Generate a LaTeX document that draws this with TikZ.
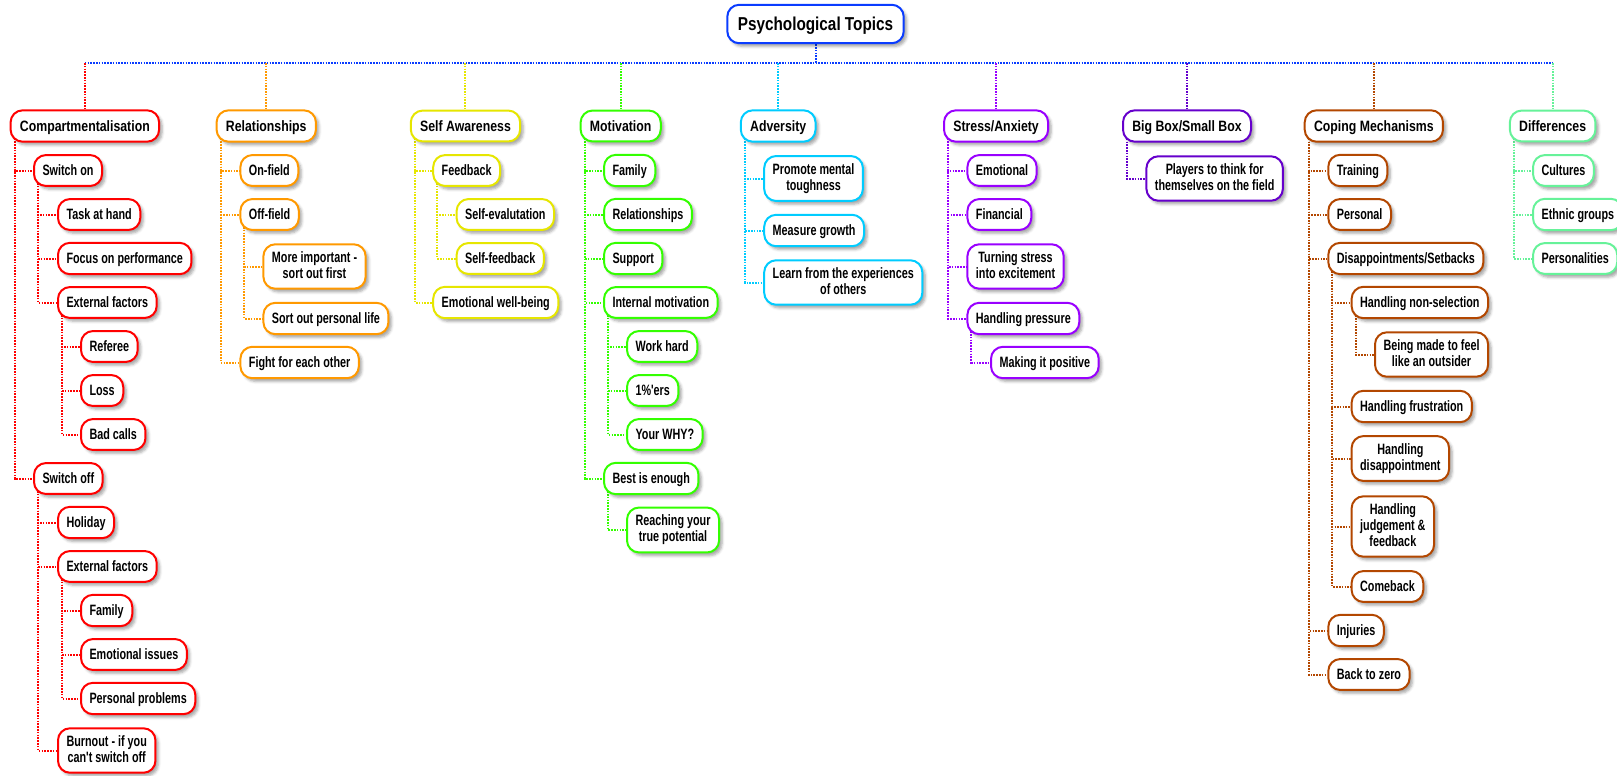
\documentclass[tikz,border=0pt]{standalone}
\usepackage{fontspec}
\setmainfont{Liberation Sans}[FakeStretch=0.82]
\newfontfamily\topfont{Liberation Sans}[FakeStretch=0.82]
\newfontfamily\subfont{Liberation Sans}[FakeStretch=0.72]
\usetikzlibrary{shadows.blur}

\definecolor{croot}{HTML}{0A3CFF}
\definecolor{cred}{HTML}{FF0000}
\definecolor{corange}{HTML}{FF9900}
\definecolor{cyellow}{HTML}{E6E600}
\definecolor{cgreen}{HTML}{33FF00}
\definecolor{ccyan}{HTML}{00CCFF}
\definecolor{cpurple}{HTML}{9900FF}
\definecolor{cviolet}{HTML}{6600CC}
\definecolor{cbrown}{HTML}{B34700}
\definecolor{cmint}{HTML}{66F299}

\pgfdeclarelayer{background}
\pgfsetlayers{background,main}

% line struts keep every text row the same height
\newcommand\nstrut{\rule[-2pt]{0pt}{12pt}}
\newcommand\rstrut{\rule[-2.6pt]{0pt}{15pt}}

\tikzset{
  box/.style={draw=#1, fill=white, line width=1.5pt, rounded corners=9pt,
    align=center, inner xsep=6.4pt, inner ysep=5.6pt, anchor=west,
    font=\subfont\fontsize{11.25}{12}\selectfont\bfseries, text=black,
    execute at begin node=\nstrut, execute at end node=\nstrut,
    blur shadow={shadow xshift=2.2pt, shadow yshift=-2.4pt,
      shadow blur radius=2pt, shadow opacity=35}},
  tbox/.style={box=#1, inner xsep=7pt,
    font=\topfont\fontsize{11.25}{12}\selectfont\bfseries},
  rootbox/.style={box=#1, anchor=center, inner xsep=7.9pt, inner ysep=6.75pt,
    font=\topfont\fontsize{14}{15}\selectfont\bfseries,
    execute at begin node=\rstrut, execute at end node=\rstrut},
  link/.style={draw=#1, line width=1.5pt, dash pattern=on 1.2pt off 0.9pt},
}

\begin{document}
\begin{tikzpicture}[x=0.75pt, y=-0.75pt]
\useasboundingbox (0,0) rectangle (1617,775);

% root and bus
\node[rootbox=croot] (root) at (815.5,24) {Psychological Topics};
\coordinate (bus) at (815.5,63);

% Compartmentalisation
\node[tbox=cred] (cmp) at (9.6,126) {Compartmentalisation};
\node[box=cred] (son) at (33,170.5) {Switch on};
\node[box=cred] (tah) at (57,214.5) {Task at hand};
\node[box=cred] (fop) at (57,258.5) {Focus on performance};
\node[box=cred] (exa) at (57,302.5) {External factors};
\node[box=cred] (ref) at (80,346.5) {Referee};
\node[box=cred] (los) at (80,390.5) {Loss};
\node[box=cred] (bad) at (80,434.5) {Bad calls};
\node[box=cred] (sof) at (33,478.5) {Switch off};
\node[box=cred] (hol) at (57,522.5) {Holiday};
\node[box=cred] (exb) at (57,566.5) {External factors};
\node[box=cred] (fma) at (80,610.5) {Family};
\node[box=cred] (emi) at (80,654.5) {Emotional issues};
\node[box=cred] (ppr) at (80,698.5) {Personal problems};
\node[box=cred] (brn) at (57,750.5) {Burnout - if you\\can't switch off};

% Relationships
\node[tbox=corange] (rel) at (215.6,126) {Relationships};
\node[box=corange] (onf) at (239.4,170.5) {On-field};
\node[box=corange] (off) at (239.4,214.5) {Off-field};
\node[box=corange] (mim) at (262.4,266.5) {More important -\\sort out first};
\node[box=corange] (sop) at (262.4,318.5) {Sort out personal life};
\node[box=corange] (ffe) at (239.4,362.5) {Fight for each other};

% Self Awareness
\node[tbox=cyellow] (saw) at (409.8,126) {Self Awareness};
\node[box=cyellow] (fdb) at (432.2,170.5) {Feedback};
\node[box=cyellow] (sev) at (455.6,214.5) {Self-evalutation};
\node[box=cyellow] (sfb) at (455.6,258.5) {Self-feedback};
\node[box=cyellow] (ewb) at (432.2,302.5) {Emotional well-being};

% Motivation
\node[tbox=cgreen] (mot) at (579.6,126) {Motivation};
\node[box=cgreen] (mfa) at (603,170.5) {Family};
\node[box=cgreen] (mre) at (603,214.5) {Relationships};
\node[box=cgreen] (sup) at (603,258.5) {Support};
\node[box=cgreen] (imo) at (603,302.5) {Internal motivation};
\node[box=cgreen] (wkh) at (626,346.5) {Work hard};
\node[box=cgreen] (one) at (626,390.5) {1\%'ers};
\node[box=cgreen] (why) at (626,434.5) {Your WHY?};
\node[box=cgreen] (bie) at (603,478.5) {Best is enough};
\node[box=cgreen] (ryp) at (626,530) {Reaching your\\true potential};

% Adversity
\node[tbox=ccyan] (adv) at (739.8,126) {Adversity};
\node[box=ccyan] (pmt) at (763.2,178.5) {Promote mental\\toughness};
\node[box=ccyan] (mgr) at (763.2,230.5) {Measure growth};
\node[box=ccyan] (lfe) at (763.2,282.5) {Learn from the experiences\\of others};

% Stress/Anxiety
\node[tbox=cpurple] (sta) at (943,126) {Stress/Anxiety};
\node[box=cpurple] (sem) at (966.4,170.5) {Emotional};
\node[box=cpurple] (fin) at (966.4,214.5) {Financial};
\node[box=cpurple] (tse) at (966.4,266.5) {Turning stress\\into excitement};
\node[box=cpurple] (hpr) at (966.4,318.5) {Handling pressure};
\node[box=cpurple] (mip) at (990,362.5) {Making it positive};

% Big Box/Small Box
\node[tbox=cviolet] (bbs) at (1122,126) {Big Box/Small Box};
\node[box=cviolet] (ptt) at (1145.4,178.5) {Players to think for\\themselves on the field};

% Coping Mechanisms
\node[tbox=cbrown] (cop) at (1303.7,126) {Coping Mechanisms};
\node[box=cbrown] (trn) at (1327.3,170.5) {Training};
\node[box=cbrown] (per) at (1327.3,214.5) {Personal};
\node[box=cbrown] (dis) at (1327.3,258.5) {Disappointments/Setbacks};
\node[box=cbrown] (hns) at (1350.6,302.5) {Handling non-selection};
\node[box=cbrown] (bmf) at (1374,354.5) {Being made to feel\\like an outsider};
\node[box=cbrown] (hfr) at (1350.6,406.5) {Handling frustration};
\node[box=cbrown] (hdi) at (1350.6,458.5) {Handling\\disappointment};
\node[box=cbrown] (hjf) at (1350.6,526.5) {Handling\\judgement \&\\feedback};
\node[box=cbrown] (cmb) at (1350.6,586.5) {Comeback};
\node[box=cbrown] (inj) at (1327.3,630.5) {Injuries};
\node[box=cbrown] (btz) at (1327.3,674.5) {Back to zero};

% Differences
\node[tbox=cmint] (dif) at (1508.8,126) {Differences};
\node[box=cmint] (cul) at (1532,170.5) {Cultures};
\node[box=cmint] (eth) at (1532,214.5) {Ethnic groups};
\node[box=cmint] (pty) at (1532,258.5) {Personalities};

\begin{pgfonlayer}{background}
  % bus from the root to every topic
  \draw[link=croot] (root.south) -- (bus);
  \draw[link=croot] (cmp.north |- bus) -- (dif.north |- bus);
  \foreach \n/\c in {cmp/cred, rel/corange, saw/cyellow, mot/cgreen, adv/ccyan,
                     sta/cpurple, bbs/cviolet, cop/cbrown, dif/cmint}
    \draw[link=\c] (\n.north |- bus) -- (\n.north);

  % parent-to-child elbows
  \foreach \c/\p/\k in {
      cred/cmp/son, cred/cmp/sof, cred/son/tah, cred/son/fop, cred/son/exa,
      cred/exa/ref, cred/exa/los, cred/exa/bad, cred/sof/hol, cred/sof/exb,
      cred/sof/brn, cred/exb/fma, cred/exb/emi, cred/exb/ppr,
      corange/rel/onf, corange/rel/off, corange/rel/ffe, corange/off/mim, corange/off/sop,
      cyellow/saw/fdb, cyellow/saw/ewb, cyellow/fdb/sev, cyellow/fdb/sfb,
      cgreen/mot/mfa, cgreen/mot/mre, cgreen/mot/sup, cgreen/mot/imo, cgreen/mot/bie,
      cgreen/imo/wkh, cgreen/imo/one, cgreen/imo/why, cgreen/bie/ryp,
      ccyan/adv/pmt, ccyan/adv/mgr, ccyan/adv/lfe,
      cpurple/sta/sem, cpurple/sta/fin, cpurple/sta/tse, cpurple/sta/hpr, cpurple/hpr/mip,
      cviolet/bbs/ptt,
      cbrown/cop/trn, cbrown/cop/per, cbrown/cop/dis, cbrown/cop/inj, cbrown/cop/btz,
      cbrown/dis/hns, cbrown/dis/hfr, cbrown/dis/hdi, cbrown/dis/hjf, cbrown/dis/cmb,
      cbrown/hns/bmf,
      cmint/dif/cul, cmint/dif/eth, cmint/dif/pty}
    \draw[link=\c] ([xshift=3.75pt,yshift=3pt]\p.south west) |- (\k.west);
\end{pgfonlayer}
\end{tikzpicture}
\end{document}
